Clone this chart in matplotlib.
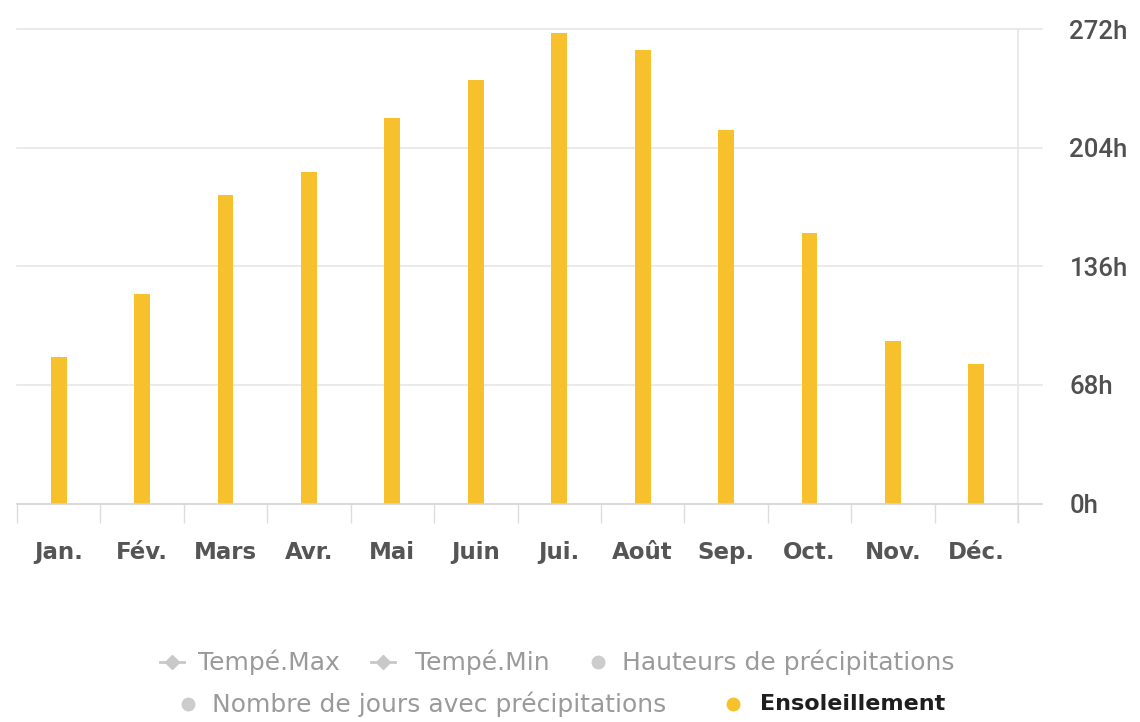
import matplotlib.pyplot as plt
from matplotlib.lines import Line2D

months = ["Jan.", "Fév.", "Mars", "Avr.", "Mai", "Juin", "Jui.", "Août", "Sep.", "Oct.", "Nov.", "Déc."]
sunshine = [84, 120, 177, 190, 221, 243, 270, 260, 214, 155, 93, 80]
y_ticks = [0, 68, 136, 204, 272]
y_labels = ["0h", "68h", "136h", "204h", "272h"]

legend_row1 = ["Tempé.Max", "Tempé.Min", "Hauteurs de précipitations"]
legend_row2 = ["Nombre de jours avec précipitations", "Ensoleillement"]

W, H = 1140, 722
plt.rcParams['font.family'] = ['DejaVu Sans']

fig = plt.figure(figsize=(W / 100, H / 100), dpi=100)
ax = fig.add_axes([17 / W, (H - 503.5) / H, 1001 / W, (503.5 - 29.3) / H])

bar_color = "#F6C12D"
x = list(range(len(months)))
ax.bar(x, sunshine, width=0.19, color=bar_color, zorder=3)

ax.set_xlim(-0.5, 11.5)
ax.set_ylim(0, 272)

# grid lines running a bit past the right edge
ytr = ax.get_yaxis_transform()
for v in y_ticks[1:]:
    ax.plot([0, 1.024], [v, v], transform=ytr, color="#e6e6e6", lw=1.2, clip_on=False, zorder=1)
ax.plot([0, 1.024], [0, 0], transform=ytr, color="#d3d3d3", lw=1.2, clip_on=False, zorder=4)
# right vertical line
ax.plot([1, 1], [-0.04, 1], transform=ax.transAxes, color="#e6e6e6", lw=1.2, clip_on=False, zorder=1)

for s in ax.spines.values():
    s.set_visible(False)

ax.set_xticks(x)
ax.set_xticklabels(months, fontsize=16.5, fontweight="bold", color="#555555")
ax.tick_params(axis="x", which="major", length=0, pad=27)
ax.set_xticks([i - 0.5 for i in range(len(months) + 1)], minor=True)
ax.tick_params(axis="x", which="minor", length=13.5, width=1, color="#dcdcdc")
ax.xaxis.get_minor_ticks()[0].tick1line.set_color("#a8a8a8")

ax.yaxis.tick_right()
ax.set_yticks(y_ticks)
for lab in ax.set_yticklabels(y_labels, fontsize=18.5, fontweight="medium", color="#505050"):
    lab.set_family(["Roboto", "DejaVu Sans"])
ax.tick_params(axis="y", length=0, pad=37)

# legend, drawn by hand (rows centred like the original)
def fx(px):
    return px / W

def fy(py):
    return (H - py) / H

grey_marker = "#c8c8c8"
grey_text = "#9a9a9a"
r1 = 662
for mx in [172, 383]:
    fig.add_artist(Line2D([fx(mx - 12), fx(mx + 12)], [fy(r1), fy(r1)], color=grey_marker, lw=2,
                          transform=fig.transFigure))
    fig.add_artist(Line2D([fx(mx)], [fy(r1)], marker="D", markersize=7, color=grey_marker,
                          transform=fig.transFigure))
for label, tx in zip(legend_row1[:2], [198, 415]):
    fig.text(fx(tx), fy(r1), label, fontsize=18, color=grey_text, va="center", ha="left")
fig.add_artist(Line2D([fx(598)], [fy(r1)], marker="o", markersize=9, color="#cccccc", lw=0,
                      transform=fig.transFigure))
fig.text(fx(622), fy(r1), legend_row1[2], fontsize=18, color=grey_text, va="center", ha="left")

r2 = 704
fig.add_artist(Line2D([fx(188)], [fy(r2)], marker="o", markersize=9, color="#cccccc", lw=0,
                      transform=fig.transFigure))
fig.text(fx(212), fy(r2), legend_row2[0], fontsize=18, color=grey_text, va="center", ha="left")
fig.add_artist(Line2D([fx(733)], [fy(r2)], marker="o", markersize=9, color=bar_color, lw=0,
                      transform=fig.transFigure))
fig.text(fx(760), fy(r2), legend_row2[1], fontsize=16, fontweight="bold", color="#1e1e1e",
         va="center", ha="left")

fig.savefig("out.png", dpi=100, facecolor="white")
